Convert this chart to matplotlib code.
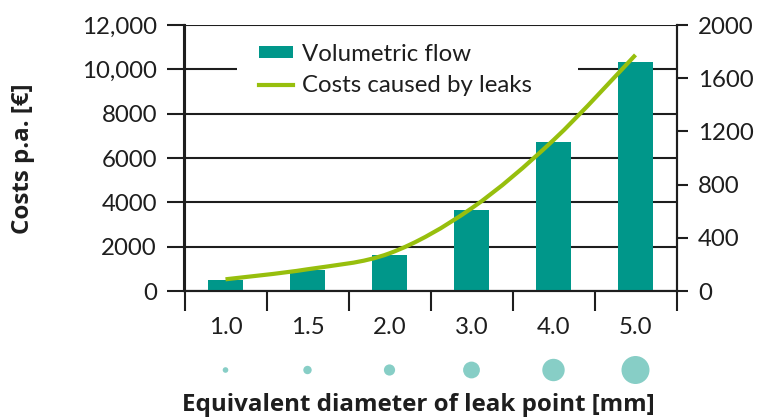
import matplotlib
matplotlib.use("Agg")
import matplotlib.pyplot as plt
from matplotlib.path import Path
from matplotlib.patches import PathPatch, Rectangle
from matplotlib.lines import Line2D
from matplotlib.patches import Patch
import numpy as np

plt.rcParams['font.family'] = ['Lato', 'DejaVu Sans']

# ---- data ----
diameters = ["1.0", "1.5", "2.0", "3.0", "4.0", "5.0"]
diameter_mm = [1.0, 1.5, 2.0, 3.0, 4.0, 5.0]
volumetric_flow = [82, 157, 270, 609, 1117, 1720]      # right axis
leak_costs = [528, 980, 1700, 3730, 6810, 10650]        # left axis, € p.a.
left_ticks = [0, 2000, 4000, 6000, 8000, 10000, 12000]
left_ticklabels = ["0", "2000", "4000", "6000", "8000", "10,000", "12,000"]
right_ticks = [0, 400, 800, 1200, 1600, 2000]
right_ticklabels = ["0", "400", "800", "1200", "1600", "2000"]

BAR = "#00978A"
LINE = "#97BF0D"
DOT = "#87CEC6"
INK = "#1E1E1E"

W, H = 765, 419
DPI = 100
fig = plt.figure(figsize=(W / DPI, H / DPI), dpi=DPI)

def fx(px):
    return px / W

def fy(py):
    return 1 - py / H

ax_l, ax_r, ax_t, ax_b = 184.5, 676.5, 25, 291
ax = fig.add_axes([fx(ax_l), fy(ax_b), fx(ax_r - ax_l), (ax_b - ax_t) / H])
n = len(diameters)
x = np.arange(n)
ax.set_xlim(-0.5, n - 0.5)
ax.set_ylim(0, 12000)

fs = 17.3
lw = 1.5

# left axis: gridlines + outward ticks
ax.set_yticks(left_ticks)
ax.set_yticklabels(left_ticklabels, fontsize=fs, color=INK)
ax.tick_params(axis='y', direction='out', length=13.3, width=lw, pad=6.5, colors=INK)
ax.grid(axis='y', color=INK, linewidth=lw, zorder=0)
ax.set_axisbelow(True)

# x axis: ticks at category boundaries, labels at centres
ax.set_xticks(np.arange(-0.5, n, 1.0))
ax.set_xticklabels([])
ax.tick_params(axis='x', which='major', direction='out', length=14.4, width=lw, colors=INK)
ax.set_xticks(x, minor=True)
ax.set_xticklabels(diameters, minor=True, fontsize=fs, color=INK)
ax.tick_params(axis='x', which='minor', length=0, pad=19, colors=INK)

for s in ['left', 'right', 'bottom', 'top']:
    ax.spines[s].set_linewidth(lw)
    ax.spines[s].set_color(INK)
ax.spines['top'].set_visible(False)

# white area behind legend
ax.add_patch(Rectangle(((237 - ax_l) / (ax_r - ax_l), (ax_b - 100) / (ax_b - ax_t)),
                       (578 - 237) / (ax_r - ax_l), (100 - 36) / (ax_b - ax_t),
                       transform=ax.transAxes, facecolor='white', edgecolor='none', zorder=1))

# right axis with bars
ax2 = ax.twinx()
ax2.set_ylim(0, 2000)
ax2.set_yticks(right_ticks)
ax2.set_yticklabels(right_ticklabels, fontsize=fs, color=INK)
ax2.tick_params(axis='y', direction='out', length=8, width=lw, pad=7.5, colors=INK)
for s in ['left', 'right', 'bottom', 'top']:
    ax2.spines[s].set_linewidth(lw)
    ax2.spines[s].set_color(INK)
ax2.spines['top'].set_visible(False)
ax2.bar(x, volumetric_flow, width=0.43, color=BAR, zorder=2)

# top axis with smooth cost line (Catmull-Rom through the data points)
ax3 = ax.twinx()
ax3.set_ylim(0, 12000)
ax3.set_axis_off()
pts = np.column_stack([x, leak_costs]).astype(float)
verts = [tuple(pts[0])]
codes = [Path.MOVETO]
for i in range(len(pts) - 1):
    p0 = pts[i - 1] if i > 0 else pts[i]
    p1 = pts[i]
    p2 = pts[i + 1]
    p3 = pts[i + 2] if i + 2 < len(pts) else pts[i + 1]
    c1 = p1 + (p2 - p0) / 6.0
    c2 = p2 - (p3 - p1) / 6.0
    verts += [tuple(c1), tuple(c2), tuple(p2)]
    codes += [Path.CURVE4] * 3
ax3.add_patch(PathPatch(Path(verts, codes), facecolor='none', edgecolor=LINE,
                        linewidth=3.0, capstyle='butt', zorder=3))

handles = [Patch(facecolor=BAR, edgecolor='none'),
           Line2D([0], [0], color=LINE, linewidth=3.0)]
leg = ax3.legend(handles, ["Volumetric flow", "Costs caused by leaks"],
                 loc='upper left', bbox_to_anchor=(fx(259), fy(44)),
                 bbox_transform=fig.transFigure, frameon=False,
                 fontsize=fs, handlelength=1.42, handleheight=0.4,
                 handletextpad=0.38, labelspacing=0.42, borderpad=0, borderaxespad=0)
for t in leg.get_texts():
    t.set_color(INK)

# circles showing leak size
axc = fig.add_axes([fx(ax_l), fy(390), fx(ax_r - ax_l), 40 / H])
axc.set_xlim(-0.5, n - 0.5)
axc.set_ylim(-1, 1)
axc.set_axis_off()
sizes = [(d * 5.6 * 72 / DPI) ** 2 for d in diameter_mm]
axc.scatter(x, [0] * n, s=sizes, color=DOT, edgecolors='none')

bold = dict(fontsize=17.4, fontweight='bold', color=INK, family=['Open Sans', 'DejaVu Sans'])
fig.text(fx(23), fy(159), "Costs p.a. [€]", rotation=90, ha='center', va='center', **bold)
fig.text(fx(418), fy(405), "Equivalent diameter of leak point [mm]", ha='center', va='center', **bold)

fig.savefig("out.png", dpi=DPI)
